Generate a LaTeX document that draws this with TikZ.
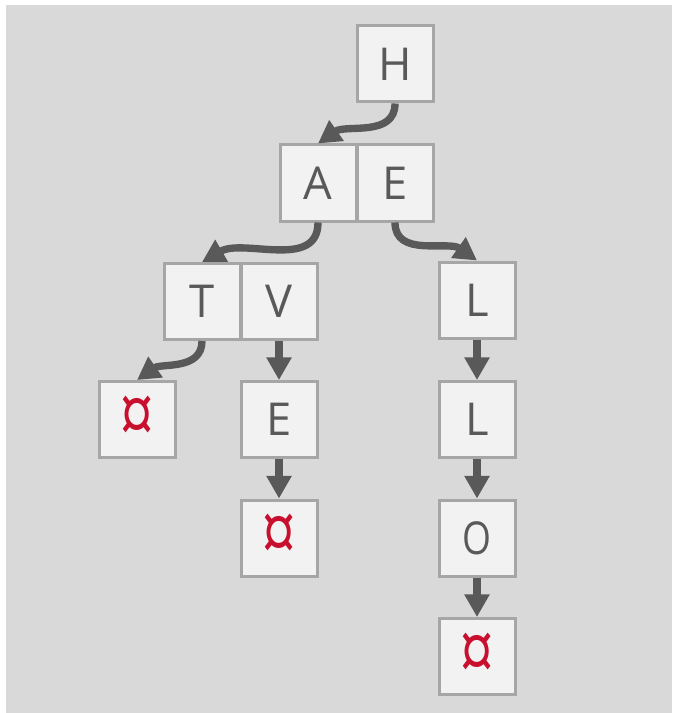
\documentclass[tikz,border=0pt]{standalone}
\usepackage{fontspec}
\setmainfont{Open Sans}
\usetikzlibrary{arrows.meta}
\definecolor{bg}{HTML}{D9D9D9}
\definecolor{boxfill}{HTML}{F2F2F2}
\definecolor{boxline}{HTML}{A6A6A6}
\definecolor{txt}{HTML}{595959}
\definecolor{arrowc}{HTML}{595959}
\definecolor{endred}{HTML}{C8102E}
\newcommand{\trieterm}{\scalebox{1.05}[1.4]{¤}}
\begin{document}
\begin{tikzpicture}[x=0.75pt,y=-0.75pt,
  cell/.style={draw=boxline, fill=boxfill, line width=2.25pt, minimum size=57pt,
    inner sep=0pt, font=\fontsize{34}{40}\selectfont, text=txt},
  endcell/.style={cell, text=endred, font=\fontsize{44}{50}\selectfont},
  arr/.style={draw=arrowc, line width=5.5pt, -{Triangle[length=17pt,width=18pt]}}]
\useasboundingbox (0,0) rectangle (674,713);
\fill[bg] (6,5) rectangle (672,713);
% nodes
\node[cell] (H) at (395,64) {H};
\node[cell] (A) at (318,183) {A};
\node[cell] (E1) at (395,183) {E};
\node[cell] (T) at (202,301.5) {T};
\node[cell] (V) at (279,301.5) {V};
\node[endcell] (X1) at (137,419.5) {\trieterm};
\node[cell] (E2) at (279,419.5) {E};
\node[endcell] (X2) at (279,538) {\trieterm};
\node[cell] (L1) at (477,300) {L};
\node[cell] (L2) at (477,419.5) {L};
\node[cell] (O) at (477,538) {\scalebox{0.82}[1]{O}};
\node[endcell] (X3) at (477,656.5) {\trieterm};
% connectors
\draw[arr] (H.south) to[out=-90,in=35] (A.north);
\draw[arr] (A.south) to[out=-90,in=30] (T.north);
\draw[arr] (E1.south) to[out=-90,in=145] (L1.north);
\draw[arr] (T.south) to[out=-90,in=35] (X1.north);
\draw[arr] (V) -- (E2);
\draw[arr] (E2) -- (X2);
\draw[arr] (L1) -- (L2);
\draw[arr] (L2) -- (O);
\draw[arr] (O) -- (X3);
\end{tikzpicture}
\end{document}
